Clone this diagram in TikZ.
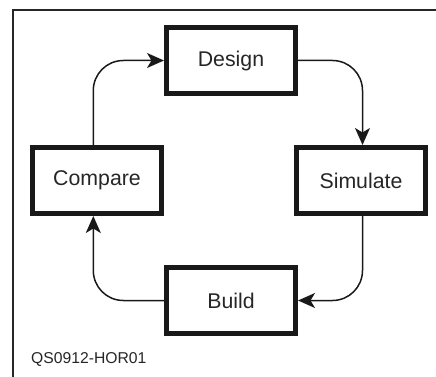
\documentclass[tikz,border=0pt]{standalone}
\usepackage{fontspec}
\setmainfont{Liberation Sans}
\usetikzlibrary{arrows.meta}
\begin{document}
\begin{tikzpicture}[x=1pt,y=-1pt,
  stagebox/.style={draw=black!90, line width=5pt, minimum width=129pt, minimum height=66pt, inner sep=0pt, font=\fontsize{21.3pt}{24pt}\selectfont, text=black!85},
  flow/.style={draw=black!90, line width=1.5pt, rounded corners=30pt, -{Stealth[length=17pt,width=15pt,inset=4.5pt]}},
  frame/.style={draw=black!85, line width=2.2pt, line join=miter}]
\useasboundingbox (0,0) rectangle (436,377);
\draw[frame] (13,380) -- (13,10) -- (440,10);
\node[stagebox] (des) at (231,60.5) {Design};
\node[stagebox] (cmp) at (97,180.5) {Compare};
\node[stagebox] (sim) at (361,180.5) {Simulate};
\node[stagebox] (bld) at (231,300.5) {Build};
\coordinate (L) at (93.3,0);
\coordinate (R) at (362.5,0);
\draw[flow] (cmp.north -| L) |- (des.west);
\draw[flow] (des.east) -| (sim.north -| R);
\draw[flow] (sim.south -| R) |- (bld.east);
\draw[flow] (bld.west) -| (cmp.south -| L);
\node[anchor=base west, inner sep=0pt, font=\fontsize{15.7pt}{18pt}\selectfont, text=black!85] (tag) at (31,363.5) {QS0912-HOR01};
\end{tikzpicture}
\end{document}
